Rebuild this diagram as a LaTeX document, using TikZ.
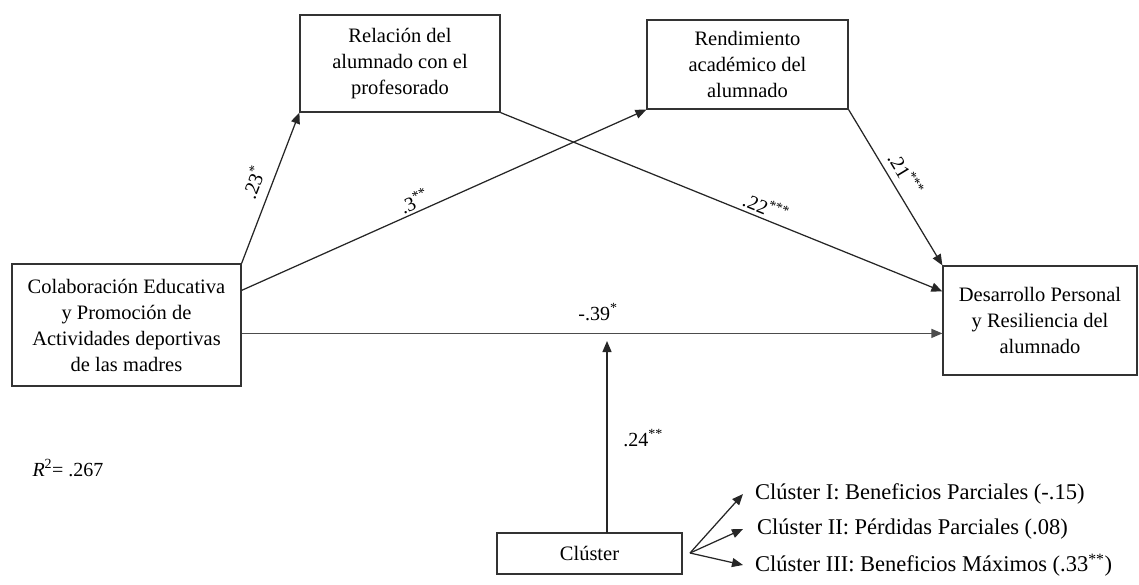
\documentclass[tikz,border=0pt]{standalone}
\usepackage{fontspec}
\setmainfont{Liberation Serif}
\usetikzlibrary{arrows.meta,calc}

\begin{document}
\begin{tikzpicture}[x=1pt,y=-1pt,
  box/.style={draw=black!80, line width=1.2pt, inner sep=0pt, align=center,
              font=\fontsize{20.5}{26}\selectfont},
  link/.style={draw=black!85, line width=1.25pt, -{Triangle[length=11pt,width=9pt]}},
  coef/.style={font=\fontsize{20}{22}\selectfont, inner sep=0pt},
  item/.style={font=\fontsize{22.5}{26}\selectfont, inner sep=0pt, anchor=west}]
\useasboundingbox (0,0) rectangle (1139,584);

% variables of the model
\node[box, minimum width=200pt, minimum height=97pt] (rel) at (400,63.5)
  {Relación del\\alumnado con el\\profesorado};
\node[box, minimum width=201pt, minimum height=89pt] (ren) at (747.5,64.5)
  {Rendimiento\\académico del\\alumnado};
\node[box, minimum width=229pt, minimum height=122pt] (col) at (126.5,325)
  {Colaboración Educativa\\y Promoción de\\Actividades deportivas\\de las madres};
\node[box, minimum width=194pt, minimum height=109pt] (des) at (1040,320.5)
  {Desarrollo Personal\\y Resiliencia del\\alumnado};
\node[box, minimum width=185pt, minimum height=41pt] (clu) at (589.5,553.5)
  {Clúster};

% cluster categories
\node[item] (c1) at (755,494) {Clúster I: Beneficios Parciales (-.15)};
\node[item] (c2) at (757,529) {Clúster II: Pérdidas Parciales (.08)};
\node[item] (c3) at (755,565) {Clúster III: Beneficios Máximos (.33\textsuperscript{**})};

% paths
\coordinate (colA) at ($(col.north east)+(0,27)$);
\coordinate (desA) at ($(des.north west)+(0,26)$);
\coordinate (colB) at ($(col.north east)+(0,70)$);
\coordinate (desB) at ($(des.north west)+(0,68)$);
\coordinate (modTip) at (607,341);
\coordinate (modBase) at (607,533);
\coordinate (fan) at (690,553);

\draw[link] (col.north east) -- (rel.south west);
\draw[link] (colA) -- (ren.south west);
\draw[link] (rel.south east) -- (desA);
\draw[link] (ren.south east) -- (des.north west);
\draw[link, draw=black!70] (colB) -- (desB);
\draw[link] (modBase) -- (modTip);
\draw[link] (fan) -- ($(c1.west)+(-12,0)$);
\draw[link] (fan) -- ($(c2.west)+(-14,0)$);
\draw[link] (fan) -- ($(c3.west)+(-12,0)$);

% coefficients
\node[coef, rotate=68.8] (k1) at (253,182) {.23\textsuperscript{*}};
\node[coef, rotate=24.1] (k2) at (414,201) {.3\textsuperscript{**}};
\node[coef, rotate=-22.1] (k3) at (766,207) {.22\textsuperscript{***}};
\node[coef, rotate=-58.8] (k4) at (906,174) {.21\textsuperscript{***}};
\node[coef] (k5) at (598,312) {-.39\textsuperscript{*}};
\node[coef] (k6) at (643,438) {.24\textsuperscript{**}};
\node[coef] (r2) at (68,468) {\textit{R}\textsuperscript{2}= .267};
\end{tikzpicture}
\end{document}
